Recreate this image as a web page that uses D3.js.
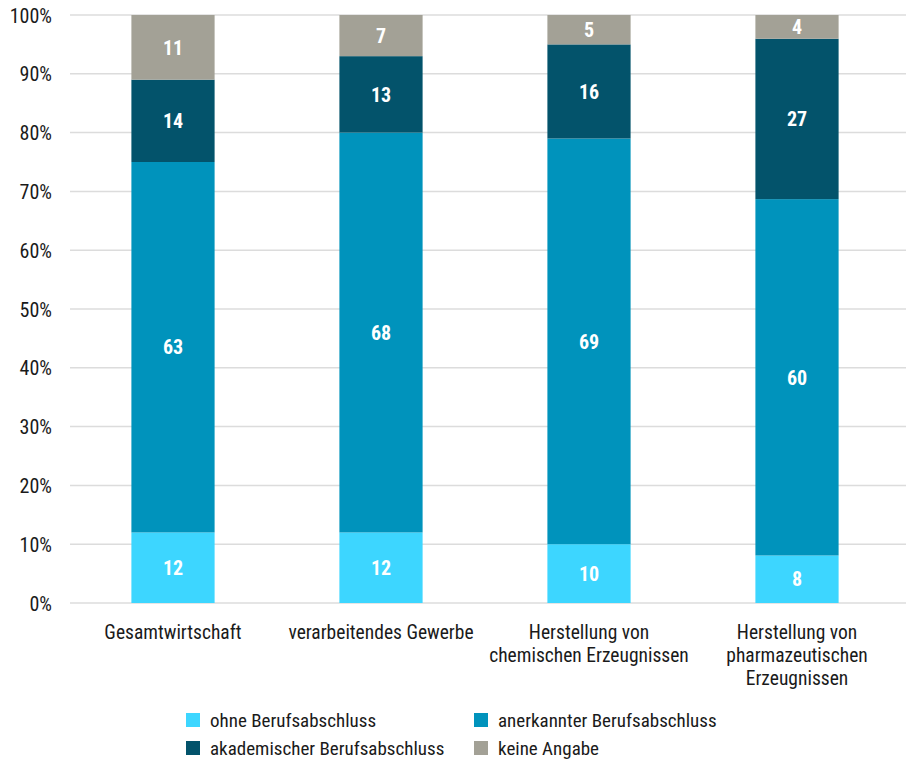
<!DOCTYPE html>
<html><head><meta charset="utf-8">
<script src="https://cdn.jsdelivr.net/npm/d3@7"></script>
<style>
body{margin:0;background:#fff;}
text{font-family:"Roboto Condensed","Liberation Sans Narrow","DejaVu Sans Condensed","Arial Narrow",sans-serif;fill:#1a1a1a;}
</style></head><body>
<svg id="c" width="906" height="760"></svg>
<script>
const categories = [
  ["Gesamtwirtschaft"],
  ["verarbeitendes Gewerbe"],
  ["Herstellung von", "chemischen Erzeugnissen"],
  ["Herstellung von", "pharmazeutischen", "Erzeugnissen"]
];
const seriesNames = ["ohne Berufsabschluss", "anerkannter Berufsabschluss", "akademischer Berufsabschluss", "keine Angabe"];
const ohne = [12, 12, 10, 8];
const anerkannt = [63, 68, 69, 60];
const akademisch = [14, 13, 16, 27];
const keine = [11, 7, 5, 4];
const yTicks = [0, 0.1, 0.2, 0.3, 0.4, 0.5, 0.6, 0.7, 0.8, 0.9, 1];
const colors = ["#3dd6ff", "#0093bc", "#03536b", "#a3a196"];

const svg = d3.select("#c");
const rows = categories.map((c, i) => ({
  key: i, s0: ohne[i], s1: anerkannt[i], s2: akademisch[i], s3: keine[i]
}));
const keys = ["s0", "s1", "s2", "s3"];
const stack = d3.stack().keys(keys).offset(d3.stackOffsetExpand)(rows);

const x = d3.scaleBand().domain(d3.range(categories.length)).range([69, 901]).paddingInner(0.6).paddingOuter(0.3);
const y = d3.scaleLinear().domain([0, 1]).range([603, 15]);

// gridlines
svg.append("g").selectAll("line").data(yTicks).join("line")
  .attr("x1", 70).attr("x2", 906)
  .attr("y1", d => y(d)).attr("y2", d => y(d))
  .attr("stroke", "#dcdcdc").attr("stroke-width", 1.5);

// y axis labels
const yAxis = d3.axisLeft(y).tickValues(yTicks).tickFormat(d3.format(".0%")).tickSize(0).tickPadding(0);
const ya = svg.append("g").attr("transform", "translate(52,0)").call(yAxis);
ya.select(".domain").remove();
ya.selectAll("text").attr("font-size", 20).attr("dy", "0.35em")
  .style("font-family", '"Roboto Condensed","Liberation Sans Narrow","DejaVu Sans Condensed",sans-serif').attr("fill", "#1a1a1a");

// bars
const g = svg.append("g");
stack.forEach((layer, li) => {
  g.append("g").attr("fill", colors[li]).selectAll("rect").data(layer).join("rect")
    .attr("x", (d, i) => x(i)).attr("width", x.bandwidth())
    .attr("y", d => y(d[1])).attr("height", d => y(d[0]) - y(d[1]));
  g.append("g").selectAll("text").data(layer).join("text")
    .attr("x", (d, i) => x(i) + x.bandwidth() / 2)
    .attr("y", d => (y(d[0]) + y(d[1])) / 2)
    .attr("dy", "0.36em")
    .attr("text-anchor", "middle")
    .attr("font-size", 20).attr("font-weight", "bold")
    .style("fill", "#fff")
    .text((d, i) => d.data[keys[li]]);
});

// x labels
const xl = svg.append("g");
categories.forEach((lines, i) => {
  const t = xl.append("text").attr("text-anchor", "middle").attr("font-size", 19.5)
    .attr("x", x(i) + x.bandwidth() / 2).attr("y", 639);
  lines.forEach((ln, j) => t.append("tspan").attr("x", x(i) + x.bandwidth() / 2).attr("dy", j ? 23 : 0).text(ln));
});

// legend
const legPos = [[186, 720], [474, 720], [186, 748], [474, 748]];
seriesNames.forEach((n, i) => {
  const [lx, ly] = legPos[i];
  svg.append("rect").attr("x", lx).attr("y", ly - 7).attr("width", 14).attr("height", 14).attr("fill", colors[i]);
  svg.append("text").attr("x", lx + 24).attr("y", ly).attr("dy", "0.35em").attr("font-size", 19).text(n);
});
</script>
</body></html>
